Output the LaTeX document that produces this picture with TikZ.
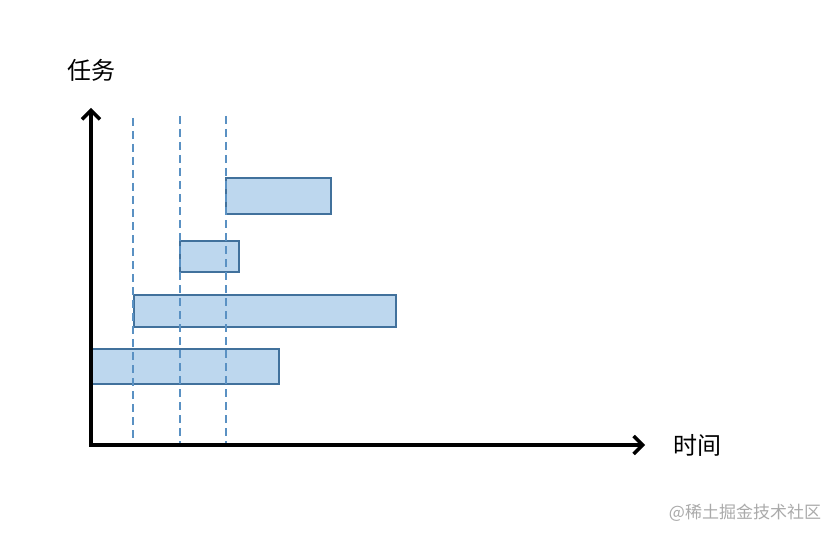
\documentclass[tikz,border=0pt]{standalone}
\usepackage{fontspec}
\newfontfamily\cjk{Noto Sans CJK SC}
\usetikzlibrary{arrows.meta}
\definecolor{barfill}{RGB}{189,215,238}
\definecolor{barline}{RGB}{65,113,156}
\definecolor{dashc}{RGB}{90,145,195}
\definecolor{wm}{RGB}{170,170,170}
\begin{document}
\begin{tikzpicture}[x=1pt,y=-1pt,
  bar/.style={draw=barline,fill=barfill,line width=1.8pt},
  guide/.style={draw=dashc,line width=1.5pt,dash pattern=on 8pt off 5pt},
  axis/.style={line width=3.5pt,-{Straight Barb[length=9pt,width=18pt,line width=3.5pt]}},
  lab/.style={font=\cjk\fontsize{24}{28}\selectfont,inner sep=0pt}]
\useasboundingbox (0,0) rectangle (840,540);
\fill[white] (0,0) rectangle (840,540);
% bars
\node[bar,minimum width=105pt,minimum height=36pt,inner sep=0pt] (b1) at (278.5,196) {};
\node[bar,minimum width=59pt,minimum height=31pt,inner sep=0pt] (b2) at (209.5,256.5) {};
\node[bar,minimum width=262pt,minimum height=32pt,inner sep=0pt] (b3) at (265,311) {};
\node[bar,minimum width=189pt,minimum height=35pt,inner sep=0pt] (b4) at (184.5,366.5) {};
% guides
\coordinate (g1t) at (133,118); \coordinate (g1b) at (133,445);
\coordinate (g2t) at (180,116); \coordinate (g2b) at (180,445);
\coordinate (g3t) at (226,116); \coordinate (g3b) at (226,445);
\draw[guide] (g1t) -- (g1b);
\draw[guide] (g2t) -- (g2b);
\draw[guide] (g3t) -- (g3b);
% axes
\coordinate (o) at (91,445);
\coordinate (ytip) at (91,108);
\coordinate (xtip) at (645,445);
\draw[axis] (o) -- (ytip);
\draw[axis] ([xshift=-1.75pt]o) -- (xtip);
% labels
\node[lab] (ylab) at (91,70) {任务};
\node[lab] (xlab) at (697,445) {时间};
\node[font=\cjk\fontsize{17}{20}\selectfont,text=wm,inner sep=0pt] (wmk) at (745,513) {@稀土掘金技术社区};
\end{tikzpicture}
\end{document}
